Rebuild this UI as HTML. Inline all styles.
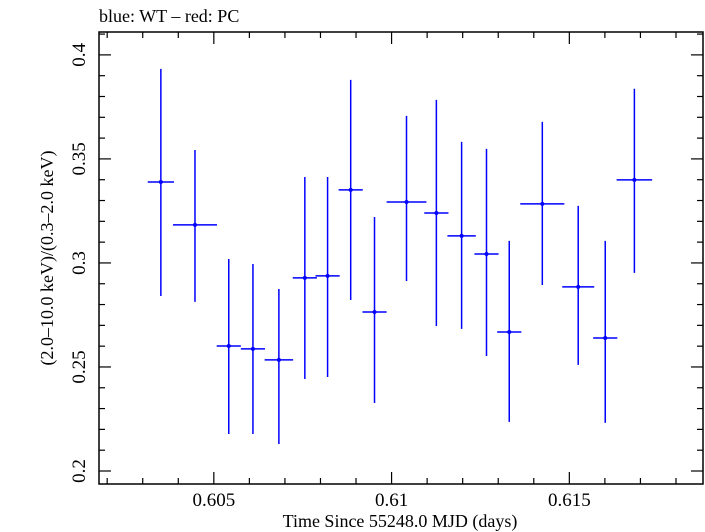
<!DOCTYPE html>
<html><head><meta charset="utf-8"><style>
html,body{margin:0;padding:0;background:#fff;}
svg{display:block;font-family:"Liberation Serif",serif;}
</style></head><body>
<svg id="chart" width="705" height="532" xmlns="http://www.w3.org/2000/svg">
<text x="99" y="22" font-size="18">blue: WT – red: PC</text>
<rect x="99" y="32" width="604" height="452" fill="none" stroke="#000" stroke-width="1.5"/>
<g id="ticks"></g>
<g id="series"></g>
<text x="400" y="527" font-size="18" text-anchor="middle">Time Since 55248.0 MJD (days)</text>
<text transform="translate(53,258) rotate(-90)" font-size="18" text-anchor="middle">(2.0–10.0 keV)/(0.3–2.0 keV)</text>
</svg>
<script>
const times=[0.60351,0.60447,0.60542,0.60610,0.60683,0.60756,0.60820,0.60885,0.60952,0.61042,0.61126,0.61197,0.61267,0.61331,0.61424,0.61525,0.61601,0.61683];
const halfWidths=[0.00037,0.00062,0.00034,0.00034,0.0004,0.00034,0.00034,0.00034,0.00034,0.00056,0.00034,0.0004,0.00034,0.00034,0.00062,0.00045,0.00034,0.0005];
const ratios=[0.3389,0.3183,0.2601,0.2587,0.2534,0.2928,0.2938,0.3351,0.2764,0.3293,0.3240,0.3130,0.3043,0.2668,0.3284,0.2885,0.2639,0.3399];
const upper=[0.3933,0.3543,0.3019,0.2995,0.2875,0.3413,0.3413,0.3880,0.3221,0.3707,0.3784,0.3582,0.3548,0.3106,0.3678,0.3274,0.3106,0.3837];
const lower=[0.2841,0.2813,0.2178,0.2178,0.2130,0.2442,0.2452,0.2822,0.2327,0.2913,0.2697,0.2683,0.2553,0.2236,0.2894,0.2510,0.2231,0.2952];
const xTickLabels=["0.605","0.61","0.615"];
const yTickLabels=["0.2","0.25","0.3","0.35","0.4"];
const NS="http://www.w3.org/2000/svg";
const L=99,R=703,T=32,B=484;
const xMin=0.60177,xMax=0.61876,yMin=0.19375,yMax=0.411;
const X=v=>L+(v-xMin)/(xMax-xMin)*(R-L);
const Y=v=>B-(v-yMin)/(yMax-yMin)*(B-T);
function mk(tag,attrs,parent){const e=document.createElementNS(NS,tag);for(const k in attrs)e.setAttribute(k,attrs[k]);parent.appendChild(e);return e;}
const tg=document.getElementById('ticks');
for(let i=602;i<=618;i++){const v=i/1000;const x=X(v);const major=i%5===0;const len=major?12:6;
 const a=mk('line',{x1:x,x2:x,y1:B,y2:B-len,stroke:'#000','stroke-width':1.2},tg);
 
 const b=mk('line',{x1:x,x2:x,y1:T,y2:T+len,stroke:'#000','stroke-width':1.2},tg);
 }
xTickLabels.forEach(s=>{const t=mk('text',{x:X(parseFloat(s)),y:506,'font-size':19,'text-anchor':'middle'},tg);t.textContent=s;
 });
for(let i=20;i<=41;i++){const v=i/100;const y=Y(v);const major=i%5===0;const len=major?12:6;
 const a=mk('line',{x1:L,x2:L+len,y1:y,y2:y,stroke:'#000','stroke-width':1.2},tg);
 
 const b=mk('line',{x1:R,x2:R-len,y1:y,y2:y,stroke:'#000','stroke-width':1.2},tg);
 }
yTickLabels.forEach(s=>{const y=Y(parseFloat(s));const t=mk('text',{transform:`translate(85,${y}) rotate(-90)`,'font-size':19,'text-anchor':'middle'},tg);t.textContent=s;
 });
const sg=document.getElementById('series');
times.forEach((t,i)=>{const g=mk('g',{},sg);
 
 mk('line',{x1:X(t),x2:X(t),y1:Y(upper[i]),y2:Y(lower[i]),stroke:'#0000ff','stroke-width':1.5},g);
 mk('line',{x1:X(t-halfWidths[i]),x2:X(t+halfWidths[i]),y1:Y(ratios[i]),y2:Y(ratios[i]),stroke:'#0000ff','stroke-width':1.5},g);
 mk('circle',{cx:X(t),cy:Y(ratios[i]),r:2,fill:'#0000ff'},g);});
</script>
</body></html>
